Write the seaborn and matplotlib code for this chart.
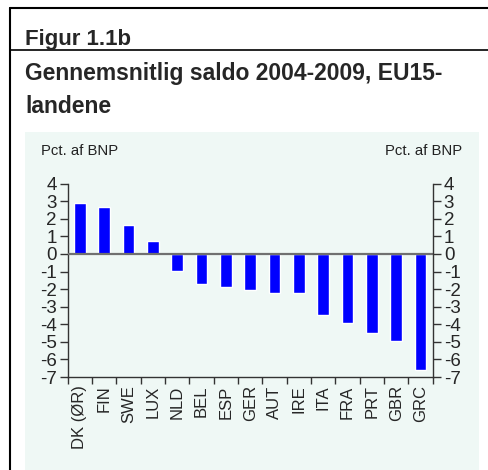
import matplotlib
matplotlib.use('Agg')
import matplotlib.pyplot as plt
import seaborn as sns
import pandas as pd
from matplotlib.patches import Rectangle
from matplotlib.lines import Line2D

# Data (pct. af BNP)
countries = ['DK (ØR)', 'FIN', 'SWE', 'LUX', 'NLD', 'BEL', 'ESP', 'GER',
             'AUT', 'IRE', 'ITA', 'FRA', 'PRT', 'GBR', 'GRC']
saldo = [2.92, 2.67, 1.65, 0.76, -0.97, -1.71, -1.86, -2.05,
         -2.22, -2.22, -3.45, -3.93, -4.48, -4.95, -6.58]
yticks = [4, 3, 2, 1, 0, -1, -2, -3, -4, -5, -6, -7]

df = pd.DataFrame({'Land': countries, 'Saldo': saldo})

sns.set_style('white')
plt.rcParams['font.family'] = ['Liberation Sans', 'DejaVu Sans']

W, H = 489, 470
fig = plt.figure(figsize=(W / 100, H / 100), dpi=100)
fig.patch.set_facecolor('white')

# helper: pixel coords -> figure fraction
def fx(x):
    return x / W

def fy(y):
    return 1 - y / H

# Frame lines and background panel
fig.add_artist(Line2D([fx(10), fx(10)], [fy(8), fy(470)], color='black', lw=1.5))
fig.add_artist(Line2D([fx(10), 1], [fy(8), fy(8)], color='black', lw=1.5))
fig.add_artist(Line2D([fx(10), 1], [fy(50), fy(50)], color='black', lw=1.2))
fig.add_artist(Rectangle((fx(25), 0), fx(479) - fx(25), fy(132),
                         facecolor='#eff8f5', edgecolor='none', zorder=0))

fig.text(fx(25), fy(45), 'Figur 1.1b', fontsize=16, fontweight='bold', va='baseline')
fig.text(fx(25), fy(80), 'Gennemsnitlig saldo 2004-2009, EU15-', fontsize=16.5,
         fontweight='bold', va='baseline')
fig.text(fx(25), fy(113), 'landene', fontsize=16.5, fontweight='bold', va='baseline')
fig.text(fx(41), fy(155), 'Pct. af BNP', fontsize=10.7, va='baseline', color='#222222')
fig.text(fx(462), fy(155), 'Pct. af BNP', fontsize=10.7, va='baseline', ha='right',
         color='#222222')

# Bar chart
ax = fig.add_axes([fx(67.7), fy(377), fx(432.7) - fx(67.7), fy(183.7) - fy(377)])
ax.patch.set_alpha(0)
sns.barplot(data=df, x='Land', y='Saldo', color='#0000ff', width=0.47,
            saturation=1, ax=ax, zorder=3)
ax.axhline(0, color='#707070', lw=1.6, zorder=4)
ax.set_xlim(-0.5, len(countries) - 0.5)
ax.set_ylim(-7, 4)
ax.set_xlabel('')
ax.set_ylabel('')

ax.set_yticks(yticks)
ax.set_yticklabels([str(t) for t in yticks], fontsize=13.5)
ax.tick_params(axis='y', direction='out', length=6, width=1, color='#333333', pad=2,
               left=True)
ax.set_xticks(range(len(countries)))
ax.set_xticklabels(countries, rotation=90, fontsize=12)
ax.set_xticks([i - 0.5 for i in range(len(countries) + 1)], minor=True)
ax.tick_params(axis='x', which='major', length=0, pad=6)
ax.tick_params(axis='x', which='minor', direction='out', length=5, width=1,
               color='#333333', bottom=True)

for side in ['left', 'bottom']:
    ax.spines[side].set_color('#333333')
    ax.spines[side].set_linewidth(1)
ax.spines['top'].set_visible(False)
ax.spines['right'].set_visible(False)

# Right axis mirrors the left
ax2 = ax.twinx()
ax2.set_ylim(-7, 4)
ax2.set_yticks(yticks)
ax2.set_yticklabels([str(t) for t in yticks], fontsize=13.5)
ax2.tick_params(axis='y', direction='out', length=6, width=1, color='#333333', pad=2,
                right=True)
ax2.grid(False)
for side in ['left', 'top', 'bottom']:
    ax2.spines[side].set_visible(False)
ax2.spines['right'].set_color('#333333')
ax2.spines['right'].set_linewidth(1)

fig.savefig('out.png', dpi=100, facecolor='white')
